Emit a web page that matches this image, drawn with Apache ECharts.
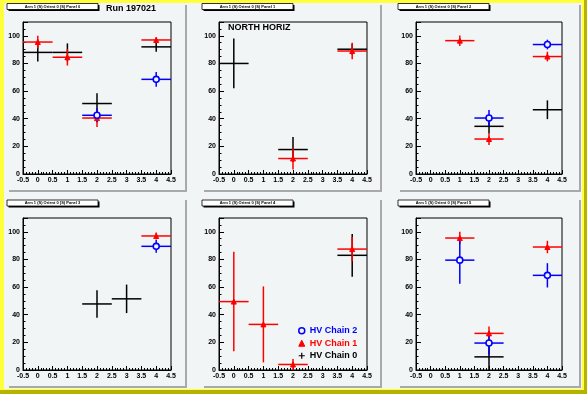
<!DOCTYPE html>
<html><head><meta charset="utf-8">
<script src="https://cdn.jsdelivr.net/npm/echarts@6/dist/echarts.min.js"></script>
<style>html,body{margin:0;padding:0;background:#ffff3c;overflow:hidden}#c{width:587px;height:394px}</style>
</head><body><div id="c"></div>
<script>
// ---------- texts ----------
const runTitle = 'Run 197021';
const panelLabel = 'NORTH HORIZ';
const panelTitles = [
  'Arm 1 (S) Orient 0 (S) Panel 0', 'Arm 1 (S) Orient 0 (S) Panel 1', 'Arm 1 (S) Orient 0 (S) Panel 2',
  'Arm 1 (S) Orient 0 (S) Panel 3', 'Arm 1 (S) Orient 0 (S) Panel 4', 'Arm 1 (S) Orient 0 (S) Panel 5'
];
const seriesNames = ['HV Chain 0', 'HV Chain 1', 'HV Chain 2'];
const legendOrder = ['HV Chain 2', 'HV Chain 1', 'HV Chain 0'];

// ---------- axes ----------
const xMin = -0.5, xMax = 4.5, xStep = 0.5;
const yMin = 0, yMax = 110, yStep = 20, yLabelMax = 100;
const xHalfWidth = 0.5; // horizontal error bar half width (bin)

// ---------- data: [x, y, yErr] ----------
const p0c0 = [[0, 88, 6.5], [1, 88, 6.5], [2, 51, 7.5], [4, 92, 3.5]];
const p0c1 = [[0, 95.5, 4.5], [1, 84.5, 6], [2, 40.5, 6.5], [4, 97, 2]];
const p0c2 = [[2, 42.5, 5], [4, 68.5, 5.3]];

const p1c0 = [[0, 80, 18], [2, 17.7, 9], [4, 90.3, 4]];
const p1c1 = [[2, 11.2, 8], [4, 89, 6]];
const p1c2 = [];

const p2c0 = [[2, 34.5, 5], [4, 46.5, 6.8]];
const p2c1 = [[1, 96.5, 3.8], [2, 25.3, 4.3], [4, 85, 3.5]];
const p2c2 = [[2, 40.5, 5.8], [4, 93.7, 3.5]];

const p3c0 = [[2, 47.8, 10], [3, 51.5, 10.3]];
const p3c1 = [[4, 97, 2.5]];
const p3c2 = [[4, 89.5, 4.6]];

const p4c0 = [[4, 83, 15.5]];
const p4c1 = [[0, 49.5, 36], [1, 33, 27.5], [2, 4, 4], [4, 87.5, 8.8]];
const p4c2 = [];

const p5c0 = [[2, 9.5, 9.5]];
const p5c1 = [[1, 95.5, 4.5], [2, 26.5, 5], [4, 89, 4.5]];
const p5c2 = [[1, 79.5, 17], [2, 19.5, 8.5], [4, 68.5, 8.8]];

const panels = [
  [p0c0, p0c1, p0c2], [p1c0, p1c1, p1c2], [p2c0, p2c1, p2c2],
  [p3c0, p3c1, p3c2], [p4c0, p4c1, p4c2], [p5c0, p5c1, p5c2]
];

// ---------- style / layout ----------
const FONT = '"Liberation Sans", Arial, Helvetica, sans-serif';
const BG = '#f2f5f5';
const colors = ['#000000', '#ff0000', '#0000ff'];
const cols = [
  { padX: 7, padW: 178, gl: 23, gw: 148 },
  { padX: 202, padW: 178, gl: 219, gw: 148 },
  { padX: 398, padW: 181, gl: 416, gw: 146 }
];
const rows = [
  { padY: 3, padH: 187, gt: 22, gh: 152 },
  { padY: 198, padH: 188, gt: 218, gh: 152 }
];

const chart = echarts.init(document.getElementById('c'), null, { renderer: 'canvas' });

const grids = [], xAxes = [], yAxes = [], series = [];
const graphics = [
  { type: 'rect', z: -20, shape: { x: 4, y: 3, width: 578, height: 386 }, style: { fill: BG } },
  { type: 'rect', z: -20, shape: { x: 584, y: 0, width: 3, height: 394 }, style: { fill: '#b4b400' } },
  { type: 'rect', z: -20, shape: { x: 0, y: 390, width: 587, height: 4 }, style: { fill: '#b4b400' } }
];

function renderErr(params, api) {
  const x = api.value(0), y = api.value(1), e = api.value(2);
  const cy = v => Math.max(yMin, Math.min(yMax, v));
  const a = api.coord([Math.max(xMin, x - xHalfWidth), y]);
  const b = api.coord([Math.min(xMax, x + xHalfWidth), y]);
  const c = api.coord([x, cy(y - e)]);
  const d = api.coord([x, cy(y + e)]);
  const st = { stroke: api.visual('color'), lineWidth: 1.5 };
  return {
    type: 'group', children: [
      { type: 'line', shape: { x1: a[0], y1: a[1], x2: b[0], y2: b[1] }, style: st },
      { type: 'line', shape: { x1: c[0], y1: c[1], x2: d[0], y2: d[1] }, style: st }
    ]
  };
}

panels.forEach((pd, i) => {
  const col = cols[i % 3], row = rows[Math.floor(i / 3)];
  // pad + shadow
  graphics.push({ type: 'rect', z: -15, shape: { x: col.padX + 2, y: row.padY + 2, width: col.padW, height: row.padH }, style: { fill: '#a9a9a9' } });
  graphics.push({ type: 'rect', z: -14, shape: { x: col.padX, y: row.padY, width: col.padW, height: row.padH }, style: { fill: BG } });
  // title box
  const bx = col.padX, by = row.padY + (i < 3 ? 0.5 : 2), bw = 91, bh = 6;
  graphics.push({ type: 'rect', z: 20, shape: { x: bx + 1.5, y: by + 1.5, width: bw, height: bh }, style: { fill: '#000' } });
  graphics.push({ type: 'rect', z: 21, shape: { x: bx, y: by, width: bw, height: bh }, style: { fill: '#fff', stroke: '#000', lineWidth: 0.8 } });
  graphics.push({ type: 'text', z: 22, style: { x: bx + bw / 2, y: by + bh / 2 + 0.3, text: panelTitles[i], font: 'bold 4px ' + FONT, fill: '#000', textAlign: 'center', textVerticalAlign: 'middle' } });

  grids.push({ left: col.gl, top: row.gt, width: col.gw, height: row.gh, show: true, borderColor: '#000', borderWidth: 1, backgroundColor: 'transparent', containLabel: false });
  xAxes.push({
    type: 'value', gridIndex: i, min: xMin, max: xMax, interval: xStep,
    axisLine: { show: true, onZero: false, lineStyle: { color: '#000', width: 1 } },
    axisTick: { show: true, inside: true, length: 4, lineStyle: { color: '#000', width: 1 } },
    minorTick: { show: true, splitNumber: 5, length: 2, lineStyle: { color: '#000', width: 1 } },
    splitLine: { show: false },
    axisLabel: { show: true, showMinLabel: true, showMaxLabel: true, margin: 3, color: '#000', fontSize: 7, fontWeight: 'bold', fontFamily: FONT, formatter: v => String(Math.round(v * 10) / 10) }
  });
  yAxes.push({
    type: 'value', gridIndex: i, min: yMin, max: yMax, interval: yStep,
    axisLine: { show: true, onZero: false, lineStyle: { color: '#000', width: 1 } },
    axisTick: { show: true, inside: true, length: 5, lineStyle: { color: '#000', width: 1 } },
    minorTick: { show: true, splitNumber: 4, length: 2.5, lineStyle: { color: '#000', width: 1 } },
    splitLine: { show: false },
    axisLabel: { show: true, margin: 3, color: '#000', fontSize: 7, fontWeight: 'bold', fontFamily: FONT, formatter: v => (v > yLabelMax ? '' : String(v)) }
  });

  pd.forEach((arr, k) => {
    if (!arr.length) return;
    series.push({
      type: 'custom', name: seriesNames[k], xAxisIndex: i, yAxisIndex: i, clip: true,
      itemStyle: { color: colors[k] }, renderItem: renderErr, data: arr, z: 2 + k,
      encode: { x: 0, y: 1 }, silent: true
    });
    if (k === 2) {
      series.push({
        type: 'scatter', name: seriesNames[k], xAxisIndex: i, yAxisIndex: i, symbol: 'circle', symbolSize: 6,
        itemStyle: { color: BG, borderColor: colors[k], borderWidth: 1.6, opacity: 1 }, data: arr.map(d => [d[0], d[1]]), z: 3 + k, silent: true
      });
    } else if (k === 1) {
      series.push({
        type: 'scatter', name: seriesNames[k], xAxisIndex: i, yAxisIndex: i, symbol: 'triangle', symbolSize: 5,
        itemStyle: { color: colors[k], borderColor: colors[k], borderWidth: 1, opacity: 1 }, data: arr.map(d => [d[0], d[1]]), z: 3 + k, silent: true
      });
    }
  });
});

graphics.push({ type: 'text', z: 22, style: { x: 106, y: 8.5, text: runTitle, font: 'bold 9px ' + FONT, fill: '#000', textAlign: 'left', textVerticalAlign: 'middle' } });
graphics.push({ type: 'text', z: 22, style: { x: 228, y: 27.5, text: panelLabel, font: 'bold 9px ' + FONT, fill: '#000', textAlign: 'left', textVerticalAlign: 'middle' } });

const legendIcons = {
  'HV Chain 2': { icon: 'circle', itemStyle: { color: BG, borderColor: '#0000ff', borderWidth: 1.5 } },
  'HV Chain 1': { icon: 'triangle', itemStyle: { color: '#ff0000', borderColor: '#ff0000', borderWidth: 1 } },
  'HV Chain 0': { icon: 'path://M4,0H6V10H4ZM0,4H10V6H0Z', itemStyle: { color: '#000', borderWidth: 0 } }
};

chart.setOption({
  animation: false,
  backgroundColor: '#ffff3c',
  textStyle: { fontFamily: FONT },
  grid: grids, xAxis: xAxes, yAxis: yAxes, series: series,
  graphic: { elements: graphics },
  legend: {
    orient: 'vertical', left: 298, top: 326, itemWidth: 6, itemHeight: 6, itemGap: 3,
    selectedMode: false, padding: 0,
    data: legendOrder.map(n => ({
      name: n, icon: legendIcons[n].icon, itemStyle: legendIcons[n].itemStyle,
      textStyle: { color: colors[seriesNames.indexOf(n)], fontSize: 9, fontWeight: 'bold', fontFamily: FONT, lineHeight: 9.5 }
    })),
    textStyle: { padding: [0, 0, 0, 0] }
  }
});
</script></body></html>
